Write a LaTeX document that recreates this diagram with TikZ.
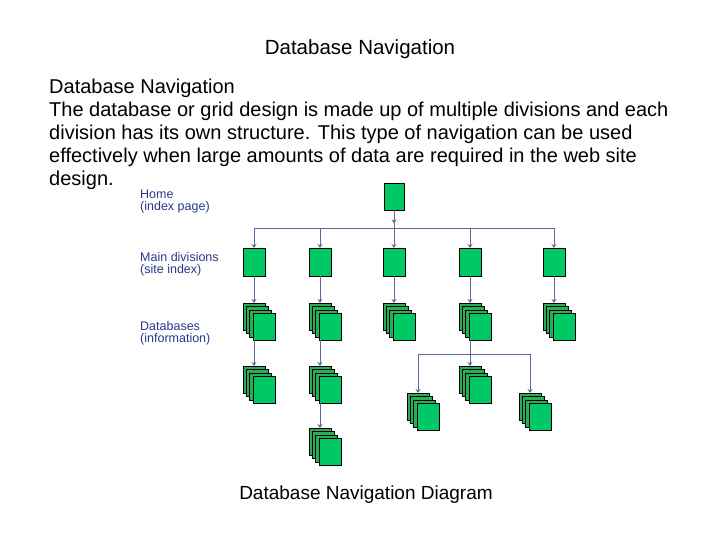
\documentclass[tikz,border=0pt]{standalone}
\usepackage{fontspec}
\setmainfont{Liberation Sans}
\usetikzlibrary{arrows.meta}
\definecolor{pagegreen}{RGB}{0,200,100}
\definecolor{backgreen}{RGB}{40,175,85}
\definecolor{linkblue}{RGB}{100,100,160}
\definecolor{labelblue}{RGB}{40,55,140}
\tikzset{
  page/.style={draw=black,fill=pagegreen,minimum width=22pt,minimum height=27pt,inner sep=0pt,anchor=north},
  backpage/.style={page,fill=backgreen},
  link/.style={draw=linkblue,line width=0.8pt},
  arr/.style={link,-{Stealth[length=4pt,width=5pt]}},
  side/.style={anchor=west,text=labelblue,font=\fontsize{12.5}{13}\selectfont,inner sep=0pt}
}
% stack of four pages, #1 = name, (#2,#3) = top centre of back page
\newcommand\pagestack[3]{
  \node[backpage] (#1-1) at (#2,#3) {};
  \node[backpage] at (#2+3.3,#3+3.3) {};
  \node[backpage] at (#2+6.6,#3+6.6) {};
  \node[page] (#1-4) at (#2+10,#3+10) {};
}
\begin{document}
\begin{tikzpicture}[x=1pt,y=-1pt]
\useasboundingbox (0,0) rectangle (720,540);
\node (title) at (360,49) {\fontsize{20.5}{22}\selectfont Database Navigation};
\begin{scope}[every node/.style={anchor=base west,inner sep=0pt,font=\fontsize{20}{22}\selectfont}]
\node (l0) at (49,94) {Database Navigation};
\node (l1) at (49,117) {The database or grid design is made up of multiple divisions and each};
\node (l2) at (49,140) {division has its own structure. This type of navigation can be used};
\node (l3) at (49,163) {effectively when large amounts of data are required in the web site};
\node (l4) at (49,186) {design.};
\end{scope}
\node[side] (s1) at (140,194) {Home};
\node[side] (s2) at (140,207) {(index page)};
\node[side] (s3) at (140,257) {Main divisions};
\node[side] (s4) at (140,270) {(site index)};
\node[side] (s5) at (140,326) {Databases};
\node[side] (s6) at (140,339) {(information)};
\node[page,minimum width=20pt] (home) at (394,183) {};
\foreach \i/\x in {1/254,2/320,3/394,4/470,5/554}{
  \node[page,minimum height=28pt] (m\i) at (\x,248) {};
  \pagestack{d\i}{\x}{303}
  \draw[arr] (m\i.south) -- (d\i-1.north);
}
\pagestack{e1}{254}{366}
\pagestack{e2}{320}{366}
\pagestack{e4}{470}{366}
\pagestack{f2}{320}{428}
\pagestack{g1}{418}{393}
\pagestack{g2}{530}{393}
\coordinate (bus) at (394,228);
\coordinate (fork) at (470,354);
\draw[link] (home.south) -- (bus);
\draw[arr] (home.south) -- ++(0,13);
\draw[link] (m1.north |- bus) -- (m5.north |- bus);
\foreach \i in {1,...,5}
  \draw[arr] (m\i.north |- bus) -- (m\i.north);
\draw[arr] (d1-4.south -| d1-1.south) -- (e1-1.north);
\draw[arr] (d2-4.south -| d2-1.south) -- (e2-1.north);
\draw[arr] (e2-4.south -| e2-1.south) -- (f2-1.north);
\draw[arr] (d4-4.south -| d4-1.south) -- (e4-1.north);
\draw[link] (g1-1.north |- fork) -- (g2-1.north |- fork);
\draw[arr] (g1-1.north |- fork) -- (g1-1.north);
\draw[arr] (g2-1.north |- fork) -- (g2-1.north);
\node[anchor=base] (caption) at (366,499) {\fontsize{19}{21}\selectfont Database Navigation Diagram};
\end{tikzpicture}
\end{document}
